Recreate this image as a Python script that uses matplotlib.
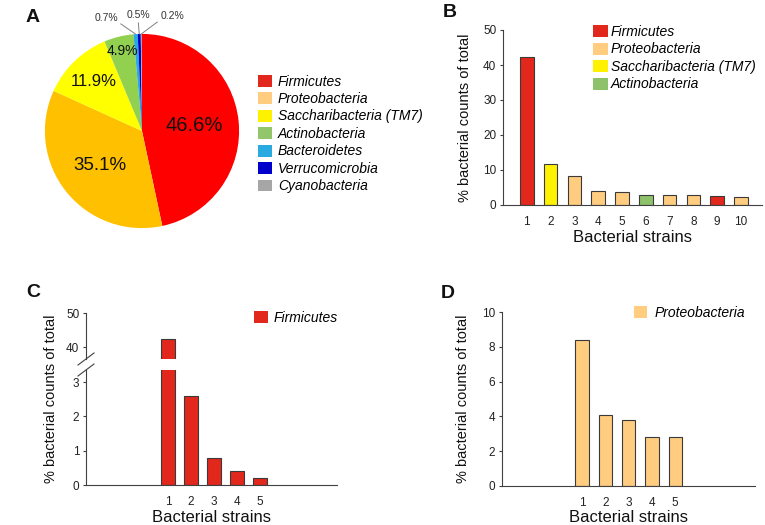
import matplotlib
matplotlib.use('Agg')
import matplotlib.pyplot as plt
import numpy as np
from matplotlib.patches import Patch

plt.rcParams['font.family'] = ['Liberation Sans', 'DejaVu Sans']

# ---------------- data ----------------
# Panel A
phyla = ['Firmicutes', 'Proteobacteria', 'Saccharibacteria (TM7)', 'Actinobacteria',
         'Bacteroidetes', 'Verrucomicrobia', 'Cyanobacteria']
phyla_pct = [46.6, 35.1, 11.9, 4.9, 0.7, 0.5, 0.2]
pct_labels = ['46.6%', '35.1%', '11.9%', '4.9%', '0.7%', '0.5%', '0.2%']
pie_colors = ['#FF0000', '#FFC000', '#FFFF00', '#92D050', '#29ABE2', '#0000CC', '#A6A6A6']
legend_colors = ['#E2271D', '#FFCC80', '#FFF200', '#92C66A', '#29ABE2', '#0000CC', '#A6A6A6']

# Panel B
top_strains = ['1', '2', '3', '4', '5', '6', '7', '8', '9', '10']
top_values = [42.3, 11.7, 8.4, 4.1, 3.8, 2.9, 2.8, 2.8, 2.6, 2.3]
top_phylum = ['Firmicutes', 'Saccharibacteria (TM7)', 'Proteobacteria', 'Proteobacteria',
              'Proteobacteria', 'Actinobacteria', 'Proteobacteria', 'Proteobacteria',
              'Firmicutes', 'Proteobacteria']
b_legend = ['Firmicutes', 'Proteobacteria', 'Saccharibacteria (TM7)', 'Actinobacteria']

# Panel C
firm_strains = ['1', '2', '3', '4', '5']
firm_values = [42.3, 2.6, 0.8, 0.4, 0.2]

# Panel D
proteo_strains = ['1', '2', '3', '4', '5']
proteo_values = [8.4, 4.1, 3.8, 2.8, 2.8]

bar_colors = {'Firmicutes': '#E2271D', 'Proteobacteria': '#FFCC80',
              'Saccharibacteria (TM7)': '#FFF200', 'Actinobacteria': '#8DC26A'}

W, H = 765, 525
fig = plt.figure(figsize=(W / 100, H / 100), dpi=100)


def frect(x0, y0, x1, y1):
    """pixel box (left, top, right, bottom) -> figure fraction rect"""
    return [x0 / W, 1 - y1 / H, (x1 - x0) / W, (y1 - y0) / H]


AX = '#404040'
EDGE = '#3a3a3a'
LEG_PROP = {'style': 'italic', 'size': 10}


def style(ax, bottom=True):
    for s in ['top', 'right']:
        ax.spines[s].set_visible(False)
    for s in ['left', 'bottom']:
        ax.spines[s].set_color(AX)
        ax.spines[s].set_linewidth(0.8)
    if not bottom:
        ax.spines['bottom'].set_visible(False)
    ax.tick_params(axis='y', length=2.2, width=0.8, color=AX, labelsize=8.5,
                   pad=2.6, labelcolor='#222222')
    ax.tick_params(axis='x', length=0, labelsize=8.5, pad=8.0, labelcolor='#222222')


def leg(handles, labels, x, y, hl, htp, ls=0.25):
    fig.legend(handles, labels, loc='upper left', bbox_to_anchor=(x / W, 1 - y / H),
               bbox_transform=fig.transFigure, frameon=False, prop=LEG_PROP,
               borderpad=0, borderaxespad=0, handlelength=hl, handleheight=0.93,
               handletextpad=htp, labelspacing=ls)


# ---------------- Panel A ----------------
axA = fig.add_axes(frect(42, 31, 242, 231))
wedges, _ = axA.pie(phyla_pct, colors=pie_colors, startangle=90, counterclock=False,
                    radius=1, wedgeprops=dict(linewidth=0))
axA.set_xlim(-1.03, 1.03)
axA.set_ylim(-1.03, 1.03)
axA.set_aspect('equal')
axA.axis('off')

big_r = [0.54, 0.56, 0.71, 0.85]
big_fs = [14.5, 13.5, 12, 10]
for i in range(4):
    w = wedges[i]
    a = np.deg2rad((w.theta1 + w.theta2) / 2)
    axA.text(big_r[i] * np.cos(a), big_r[i] * np.sin(a), pct_labels[i],
             ha='center', va='center', fontsize=big_fs[i], color='#111111')

small_xy = [(-0.37, 1.165), (-0.04, 1.196), (0.31, 1.186)]
small_rel = [(1.0, 0.1), (0.5, 0.0), (0.0, 0.1)]
for k, i in enumerate([4, 5, 6]):
    w = wedges[i]
    a = np.deg2rad((w.theta1 + w.theta2) / 2)
    axA.annotate(pct_labels[i], xy=(np.cos(a), np.sin(a)), xytext=small_xy[k],
                 ha='center', va='center', fontsize=7.5, color='#333333',
                 annotation_clip=False,
                 arrowprops=dict(arrowstyle='-', color='#808080', lw=0.7,
                                 shrinkA=0, shrinkB=0, relpos=small_rel[k]))

leg([Patch(facecolor=c, edgecolor='none') for c in legend_colors], phyla,
    258, 74.5, 1.0, 0.43)

# ---------------- Panel B ----------------
axB = fig.add_axes(frect(503, 30, 762, 205))
xb = np.arange(1, len(top_values) + 1)
axB.bar(xb, top_values, width=0.57, color=[bar_colors[p] for p in top_phylum],
        edgecolor=EDGE, linewidth=0.8)
axB.set_xlim(0, 10.88)
axB.set_ylim(0, 50)
axB.set_yticks([0, 10, 20, 30, 40, 50])
axB.set_xticks(xb)
axB.set_xticklabels(top_strains)
style(axB)
leg([Patch(facecolor=bar_colors[p], edgecolor='none') for p in b_legend], b_legend,
    593, 25, 1.08, 0.2)

# ---------------- Panel C ----------------
xc = np.arange(1, len(firm_values) + 1)
axCu = fig.add_axes(frect(86, 313, 337, 358.7))
axCl = fig.add_axes(frect(86, 370, 337, 485))
for ax in (axCu, axCl):
    ax.bar(xc, firm_values, width=0.58, color=bar_colors['Firmicutes'],
           edgecolor=EDGE, linewidth=0.8)
    ax.set_xlim(-2.57, 8.35)
axCu.set_ylim(36.6, 50)
axCu.set_yticks([40, 50])
axCu.set_xticks([])
style(axCu, bottom=False)
axCl.set_ylim(0, 3.35)
axCl.set_yticks([0, 1, 2, 3])
axCl.set_xticks(xc)
axCl.set_xticklabels(firm_strains)
style(axCl)
for yc in (359, 370):
    fig.add_artist(plt.Line2D([78 / W, 94 / W], [1 - (yc + 6) / H, 1 - (yc - 6) / H],
                              color=AX, lw=0.8))
leg([Patch(facecolor=bar_colors['Firmicutes'], edgecolor='none')], ['Firmicutes'],
    254, 310.5, 1.0, 0.43)

# ---------------- Panel D ----------------
axD = fig.add_axes(frect(502, 312.3, 755, 485.7))
xd = np.arange(1, len(proteo_values) + 1)
axD.bar(xd, proteo_values, width=0.57, color=bar_colors['Proteobacteria'],
        edgecolor=EDGE, linewidth=0.8)
axD.set_xlim(-2.43, 8.42)
axD.set_ylim(0, 10)
axD.set_yticks([0, 2, 4, 6, 8, 10])
axD.set_xticks(xd)
axD.set_xticklabels(proteo_strains)
style(axD)
leg([Patch(facecolor=bar_colors['Proteobacteria'], edgecolor='none')], ['Proteobacteria'],
    634, 306, 0.95, 0.5)

# ---------------- axis titles & panel letters ----------------
ylab = '% bacterial counts of total'
for (x, y) in [(465, 117.5), (51, 399), (463, 399)]:
    fig.text(x / W, 1 - y / H, ylab, rotation=90, ha='center', va='center',
             fontsize=10.5, color='#111111')
for (x, y) in [(632.5, 237), (211.5, 518), (628.5, 518)]:
    fig.text(x / W, 1 - y / H, 'Bacterial strains', ha='center', va='center',
             fontsize=12, color='#111111')
for (t, x, y) in [('A', 26, 21.7), ('B', 442.5, 16.7), ('C', 26.5, 297), ('D', 441, 298.5)]:
    fig.text(x / W, 1 - y / H, t, ha='left', va='baseline', fontsize=14,
             fontweight='bold', color='#111111')

fig.savefig('out.png', dpi=100)
